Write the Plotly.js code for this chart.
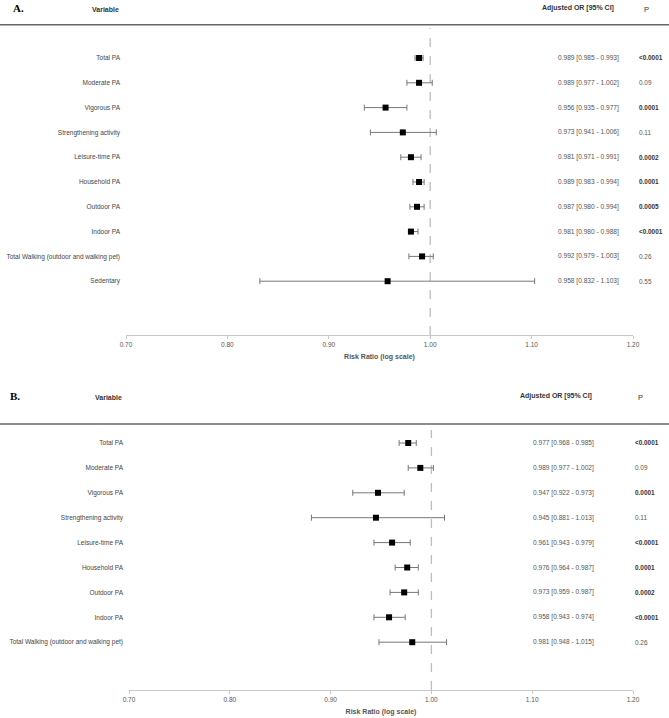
<!DOCTYPE html>
<html>
<head>
<meta charset="utf-8">
<script src="https://cdn.plot.ly/plotly-3.0.1.min.js"></script>
<style>html,body{margin:0;padding:0;background:#fff;}#chart{width:669px;height:718px;}</style>
</head>
<body>
<div id="chart"></div>
<script>
// ---- Data ----
const labelsA = ['Total PA','Moderate PA','Vigorous PA','Strengthening activity','Leisure-time PA','Household PA','Outdoor PA','Indoor PA','Total Walking (outdoor and walking pet)','Sedentary'];
const orA = [0.989,0.989,0.956,0.973,0.981,0.989,0.987,0.981,0.992,0.958];
const loA = [0.985,0.977,0.935,0.941,0.971,0.983,0.980,0.980,0.979,0.832];
const hiA = [0.993,1.002,0.977,1.006,0.991,0.994,0.994,0.988,1.003,1.103];
const pA  = ['<0.0001','0.09','0.0001','0.11','0.0002','0.0001','0.0005','<0.0001','0.26','0.55'];

const labelsB = ['Total PA','Moderate PA','Vigorous PA','Strengthening activity','Leisure-time PA','Household PA','Outdoor PA','Indoor PA','Total Walking (outdoor and walking pet)'];
const orB = [0.977,0.989,0.947,0.945,0.961,0.976,0.973,0.958,0.981];
const loB = [0.968,0.977,0.922,0.881,0.943,0.964,0.959,0.943,0.948];
const hiB = [0.985,1.002,0.973,1.013,0.979,0.987,0.987,0.974,1.015];
const pB  = ['<0.0001','0.09','0.0001','0.11','<0.0001','0.0001','0.0002','<0.0001','0.26'];

const xTicks = [0.70,0.80,0.90,1.00,1.10,1.20];
const refLine = 1.00;

// ---- Helpers ----
const W = 669, H = 718;
const px = x => x / W;
const py = y => 1 - y / H;
const SANS = '"Liberation Sans", Arial, sans-serif';
const idx = arr => arr.map((_, i) => i);
const isSig = p => p.startsWith('<') || parseFloat(p) < 0.05;

function trace(or, lo, hi, xa, ya) {
  return {
    type: 'scatter', mode: 'markers',
    x: or, y: idx(or), xaxis: xa, yaxis: ya,
    marker: {symbol: 'square', size: 6, color: '#000'},
    error_x: {
      type: 'data', symmetric: false,
      array: hi.map((h, i) => +(h - or[i]).toFixed(4)),
      arrayminus: lo.map((l, i) => +(or[i] - l).toFixed(4)),
      color: '#777', thickness: 1, width: 3
    },
    hoverinfo: 'x+y', showlegend: false
  };
}

function xAxis(domain, anchor) {
  return {
    domain: domain, range: [0.70, 1.20], anchor: anchor,
    showgrid: false, zeroline: false, showline: true,
    linecolor: '#c8c8c8', linewidth: 1,
    ticks: 'outside', ticklen: 3, tickcolor: '#c8c8c8',
    tickvals: xTicks, ticktext: xTicks.map(v => v.toFixed(2)),
    tickfont: {family: SANS, size: 6.5, color: '#555'},
    title: {text: '<b>Risk Ratio (log scale)</b>', font: {family: SANS, size: 7, color: '#555'}, standoff: 7},
    fixedrange: true
  };
}
function yAxis(domain, anchor, labels, range) {
  return {
    domain: domain, anchor: anchor, range: range,
    showgrid: false, zeroline: false, showline: false,
    tickvals: idx(labels), ticktext: labels, ticks: '',
    ticklabelstandoff: 5,
    tickfont: {family: SANS, size: 6.5, color: '#444'},
    fixedrange: true
  };
}

function colAnnots(or, lo, hi, p, yref, ciX, pX) {
  const out = [];
  or.forEach((v, i) => {
    out.push({xref: 'paper', yref: yref, x: px(ciX), y: i, xanchor: 'left', yanchor: 'middle', showarrow: false,
      text: v.toFixed(3) + ' [' + lo[i].toFixed(3) + ' - ' + hi[i].toFixed(3) + ']',
      font: {family: SANS, size: 6.6, color: '#555'}});
    out.push({xref: 'paper', yref: yref, x: px(pX), y: i, xanchor: 'left', yanchor: 'middle', showarrow: false,
      text: isSig(p[i]) ? '<b>' + p[i] + '</b>' : p[i],
      font: {family: SANS, size: 6.4, color: isSig(p[i]) ? '#333' : '#555'}});
  });
  return out;
}

function header(letter, yTop, lx, varX, ciX, pX) {
  const f = {family: SANS, size: 7, color: '#333'};
  return [
    {xref: 'paper', yref: 'paper', x: px(lx), y: py(yTop), xanchor: 'left', yanchor: 'middle', showarrow: false,
     text: '<b>' + letter + '</b>', font: {family: '"Liberation Serif", serif', size: 11, color: '#000'}},
    {xref: 'paper', yref: 'paper', x: px(varX), y: py(yTop + 1), xanchor: 'center', yanchor: 'middle', showarrow: false,
     text: '<b>Variable</b>', font: f},
    {xref: 'paper', yref: 'paper', x: px(ciX), y: py(yTop), xanchor: 'center', yanchor: 'middle', showarrow: false,
     text: '<b>Adjusted OR [95% CI]</b>', font: f},
    {xref: 'paper', yref: 'paper', x: px(pX), y: py(yTop + 1), xanchor: 'center', yanchor: 'middle', showarrow: false,
     text: 'P', font: {family: SANS, size: 7.5, color: '#333'}}
  ];
}

// ---- Layout geometry ----
const xDomA = [px(126), px(633)];
const yDomA = [py(335), py(28)];
const rowA0 = 58, rowStepA = 24.8;
const yRangeA = [(335 - rowA0) / rowStepA, (28 - rowA0) / rowStepA];

const xDomB = [px(129), px(633)];
const yDomB = [py(690), py(430)];
const rowB0 = 443, rowStepB = 24.9;
const yRangeB = [(690 - rowB0) / rowStepB, (430 - rowB0) / rowStepB];

const data = [
  trace(orA, loA, hiA, 'x', 'y'),
  trace(orB, loB, hiB, 'x2', 'y2')
];

const annotations = []
  .concat(header('A.', 8, 11, 105, 578, 646))
  .concat(colAnnots(orA, loA, hiA, pA, 'y', 556, 637))
  .concat(header('B.', 396, 8, 109, 556, 640))
  .concat(colAnnots(orB, loB, hiB, pB, 'y2', 531, 633));

const shapes = [
  {type: 'line', xref: 'paper', yref: 'paper', x0: 0, x1: 1, y0: py(24.7), y1: py(24.7), line: {color: '#666', width: 1.5}},
  {type: 'line', xref: 'paper', yref: 'paper', x0: 0, x1: 1, y0: py(424), y1: py(424), line: {color: '#666', width: 1.5}},
  {type: 'line', xref: 'x', yref: 'y domain', x0: refLine, x1: refLine, y0: 0, y1: 1, line: {color: '#bdbdbd', width: 1.3, dash: 'dash'}, layer: 'below'},
  {type: 'line', xref: 'x2', yref: 'y2 domain', x0: refLine, x1: refLine, y0: 0, y1: 1, line: {color: '#bdbdbd', width: 1.3, dash: 'dash'}, layer: 'below'}
];

const layout = {
  width: W, height: H,
  margin: {l: 0, r: 0, t: 0, b: 0, pad: 0},
  paper_bgcolor: '#fff', plot_bgcolor: '#fff',
  showlegend: false,
  xaxis: xAxis(xDomA, 'y'),
  yaxis: yAxis(yDomA, 'x', labelsA, yRangeA),
  xaxis2: xAxis(xDomB, 'y2'),
  yaxis2: yAxis(yDomB, 'x2', labelsB, yRangeB),
  annotations: annotations,
  shapes: shapes
};

Plotly.newPlot('chart', data, layout, {displayModeBar: false, staticPlot: true});
</script>
</body>
</html>
